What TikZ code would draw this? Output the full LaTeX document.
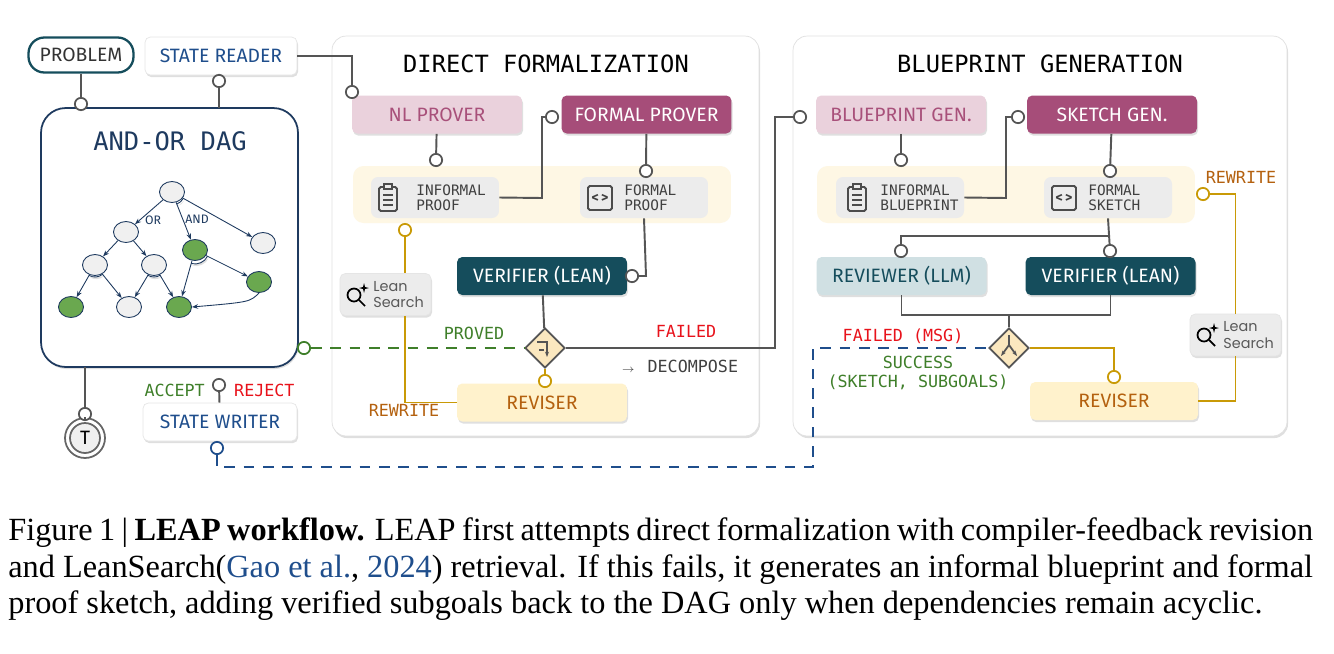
\documentclass[tikz,border=0pt]{standalone}
\usepackage{fontspec}
\setmainfont{Liberation Serif}
\newfontfamily\sansf{Fira Sans}
\newfontfamily\monof{DejaVu Sans Mono}
\newfontfamily\roundf{Poppins}
\usepackage{xcolor}
\usetikzlibrary{positioning, arrows.meta, calc, angles, shapes.geometric, shadows}

\definecolor{tealdk}{HTML}{154D5C}
\definecolor{pinklt}{HTML}{EAD1DC}
\definecolor{pinkdk}{HTML}{A64D79}
\definecolor{pinktx}{HTML}{A8507A}
\definecolor{band}{HTML}{FEF7E4}
\definecolor{revfill}{HTML}{FFF2CC}
\definecolor{revtx}{HTML}{B4610F}
\definecolor{gold}{HTML}{C99A06}
\definecolor{okgreen}{HTML}{3F7F2A}
\definecolor{badred}{HTML}{E8121B}
\definecolor{navy}{HTML}{1F4E8C}
\definecolor{dagnavy}{HTML}{1E3A5F}
\definecolor{greybox}{HTML}{ECECEC}
\definecolor{wirec}{HTML}{555555}
\definecolor{leaf}{HTML}{6AA84F}
\definecolor{revlt}{HTML}{D0E0E3}
\definecolor{diafill}{HTML}{FBE8BF}

\tikzset{
  wire/.style={draw=wirec, line width=1.1pt},
  goldwire/.style={draw=gold, line width=1.1pt},
  dot/.style={circle, draw=wirec, fill=white, line width=1pt, inner sep=0pt, minimum size=7pt},
  golddot/.style={dot, draw=gold},
  shade/.style={drop shadow={opacity=0.25, shadow xshift=0.6pt, shadow yshift=-1.2pt}},
  agent/.style={rectangle, rounded corners=3pt, minimum width=3.4cm, minimum height=0.76cm,
    font=\sansf\fontsize{11}{13}\selectfont, shade},
  artefact/.style={rectangle, rounded corners=4pt, fill=greybox, minimum width=2.56cm, minimum height=0.82cm},
  arttext/.style={anchor=west, inner sep=0pt, font=\monof\fontsize{8.2}{8.6}\selectfont, align=left, text=black!75},
  panel/.style={rectangle, rounded corners=8pt, draw=black!12, fill=white, shade},
  lbl/.style={font=\monof\fontsize{9.5}{11}\selectfont},
  gate/.style={diamond, draw=wirec, fill=diafill, line width=1pt, minimum size=0.8cm, inner sep=0pt},
  dagn/.style={ellipse, draw=dagnavy, fill=black!6, line width=0.5pt, minimum width=0.5cm, minimum height=0.42cm},
  dagg/.style={dagn, fill=leaf},
  dagarrow/.style={draw=dagnavy, line width=0.5pt, -{Stealth[length=3.5pt]}},
  search/.style={rectangle, rounded corners=3pt, fill=greybox, draw=black!10, minimum width=1.82cm,
    minimum height=0.84cm, shade},
  searchtext/.style={anchor=west, inner sep=0pt, font=\roundf\fontsize{8.2}{9.6}\selectfont, align=left, text=black!65}
}

\newcommand{\clipicon}[1]{%
  \draw[black!70, line width=1.1pt, rounded corners=1pt] ($(#1)+(-9,-11)$) rectangle ($(#1)+(9,13)$);
  \draw[black!70, line width=1.1pt, fill=greybox] ($(#1)+(-4,-14)$) rectangle ($(#1)+(4,-9)$);
  \foreach \yy in {-3,2,7} \draw[black!70, line width=1.1pt] ($(#1)+(-5,\yy)$) -- ($(#1)+(5,\yy)$);}
\newcommand{\codeicon}[1]{%
  \draw[black!70, line width=1.1pt, rounded corners=1pt] ($(#1)+(-12,-12)$) rectangle ($(#1)+(12,12)$);
  \node[font=\sansf\bfseries\fontsize{8}{8}\selectfont, text=black!75] at (#1) {<\,>};}
\newcommand{\lensicon}[1]{%
  \draw[black, line width=1pt] ($(#1)+(-2,-1)$) circle[radius=0.13cm];
  \draw[black, line width=1pt] ($(#1)+(3,4)$) -- ($(#1)+(9,10)$);
  \fill[black] ($(#1)+(8,-13)$) -- ($(#1)+(9,-9)$) -- ($(#1)+(13,-8)$) -- ($(#1)+(9,-7)$)
     -- ($(#1)+(8,-3)$) -- ($(#1)+(7,-7)$) -- ($(#1)+(3,-8)$) -- ($(#1)+(7,-9)$) -- cycle;}

\begin{document}
\begin{tikzpicture}[x=0.02cm, y=-0.02cm]
\useasboundingbox (0,0) rectangle (1334,653);

% --- Pannelli ---
\node[panel, minimum width=8.54cm, minimum height=8cm] (dfpanel) at (545.5,236) {};
\node[panel, minimum width=9.88cm, minimum height=8cm] (bppanel) at (1040,236) {};
\node[font=\monof\fontsize{13.5}{15}\selectfont] (dftitle) at (546,64) {DIRECT FORMALIZATION};
\node[font=\monof\fontsize{13.5}{15}\selectfont] (bptitle) at (1040,64) {BLUEPRINT GENERATION};

% --- Lato sinistro ---
\node[rectangle, rounded corners=9pt, draw=tealdk, line width=1.3pt, minimum width=2.1cm, minimum height=0.7cm,
  font=\sansf\fontsize{11}{13}\selectfont, text=black!80] (problem) at (81,55) {PROBLEM};
\node[agent, fill=white, draw=black!10, text=navy, minimum width=3.04cm] (reader) at (221,56) {STATE READER};
\node[rectangle, rounded corners=14pt, draw=dagnavy, fill=white, line width=1pt, shade,
  minimum width=5.14cm, minimum height=5.18cm] (dag) at (169.5,237.5) {};
\node[font=\monof\fontsize{14.5}{16}\selectfont, text=dagnavy] (dagtitle) at (170,141) {AND-OR DAG};
\node[agent, fill=white, draw=black!10, text=navy, minimum width=3.08cm] (writer) at (220,422) {STATE WRITER};
\node[circle, draw=black!60, line width=1pt, fill=white, minimum size=0.8cm, inner sep=0pt] (term) at (85,438) {};
\node[circle, draw=black!60, line width=1pt, fill=black!6, minimum size=0.6cm, inner sep=0pt,
  font=\sansf\fontsize{11}{12}\selectfont] (termin) at (85,438) {T};

\node[dot] (dprob) at (81,104) {};
\node[dot] (dread) at (219,81) {};
\node[dot] (dterm) at (85,414) {};
\node[dot] (dwrite) at (219,385) {};
\node[dot, draw=navy] (dwback) at (217,448) {};
\node[dot, draw=okgreen] (dproved) at (304,348) {};
\draw[wire] (problem) -- (dprob);
\draw[wire] (dread) -- (reader);
\draw[wire] (dread) -- (219,108);
\draw[wire] (85,367) -- (dterm);
\draw[wire] (dterm) -- (term);
\draw[wire] (dwrite) -- (writer);
\node[lbl, text=okgreen, anchor=east] (accept) at (211,390) {ACCEPT};
\node[lbl, text=badred, anchor=west] (reject) at (228,390) {REJECT};

% --- DAG AND-OR ---
\node[dagn] (t) at (172,192) {};
\node[dagn] (n21) at (126,232) {};
\node[dagg] (g1) at (195,250) {};
\node[dagn] (r1) at (263,243) {};
\node[dagn] (n31) at (95,265) {};
\node[dagn] (n32) at (154,265) {};
\node[dagg] (g3) at (259,282) {};
\node[dagg] (n41) at (71,307) {};
\node[dagn] (n42) at (129,307) {};
\node[dagg] (n43) at (179,307) {};
\draw[dagarrow] (t) -- (n21);
\draw[dagarrow] (t) -- (g1);
\draw[dagarrow] (t) -- (r1);
\draw[dagarrow] (n21) -- (n31);
\draw[dagarrow] (n21) -- (n32);
\draw[dagarrow] (n31) -- (n41);
\draw[dagarrow] (n31) -- (n42);
\draw[dagarrow] (n32) -- (n42);
\draw[dagarrow] (n32) -- (n43);
\draw[dagarrow] (g1) -- (n43);
\draw[dagarrow] (g1) -- (g3);
\draw[dagarrow] (g3.south) .. controls (250,302) .. (n43.east);
\pic[draw=dagnavy, line width=0.5pt, angle radius=0.26cm] {angle=g1--t--r1};
\pic[draw=dagnavy, line width=0.5pt, angle radius=0.28cm] {angle=n43--g1--g3};
\pic[draw=dagnavy, line width=0.5pt, angle radius=0.24cm] {angle=n41--n31--n42};
\pic[draw=dagnavy, line width=0.5pt, angle radius=0.24cm] {angle=n42--n32--n43};
\node[font=\sansf\fontsize{7}{8}\selectfont, text=dagnavy] (orlbl) at (153,220) {OR};
\node[font=\sansf\fontsize{7}{8}\selectfont, text=dagnavy] (andlbl) at (197,219) {AND};

% --- Formalizzazione diretta ---
\node[rectangle, rounded corners=6pt, fill=band, minimum width=7.56cm, minimum height=1.14cm] (dfband) at (542,194.5) {};
\node[agent, fill=pinklt, text=pinktx] (nlp) at (437,114.5) {NL PROVER};
\node[agent, fill=pinkdk, text=white] (fp) at (646.5,114.5) {FORMAL PROVER};
\node[artefact] (iproof) at (435,197.5) {};
\node[arttext] (iprooft) at (416,197.5) {INFORMAL\\PROOF};
\node[artefact] (fproof) at (644,197.5) {};
\node[arttext] (fprooft) at (624,197.5) {FORMAL\\PROOF};
\clipicon{388,198}
\codeicon{600,198}
\node[agent, fill=tealdk, text=white] (ver1) at (542,276) {VERIFIER (LEAN)};
\node[agent, fill=revfill, text=revtx] (rev1) at (542,402.5) {REVISER};
\node[search] (ls1) at (385.5,294.5) {};
\node[searchtext] (ls1t) at (373,294.5) {Lean\\Search};
\lensicon{356,296}
\node[gate] (g1d) at (545,348) {};
\draw[wirec, line width=1pt, -{Stealth[length=3pt]}] (537,342) -- (547,342) -- (547,357);
\draw[wirec, line width=1pt] (539,350) -- (544,350);

\node[dot] (dnl) at (352,92) {};
\node[dot] (dnlp) at (436,160) {};
\node[dot] (dfpp) at (646,171) {};
\node[dot] (dfpin) at (552,117) {};
\node[dot] (dver1) at (632,276) {};
\node[golddot] (drev1) at (545,381) {};
\node[golddot] (dip1) at (405,230) {};
\draw[wire] (reader.east) -| (dnl);
\draw[wire] (nlp) -- (dnlp);
\draw[wire] (fp) -- (dfpp);
\draw[wire] (iproof.east) -- (542,198) |- (dfpin);
\draw[wire] (fproof.south) -- (646,276) -- (dver1);
\draw[wire] (ver1) -- (g1d);
\draw[goldwire] (g1d) -- (drev1);
\draw[goldwire] (dip1) -- (ls1.north -| dip1);
\draw[goldwire] (ls1.south -| dip1) |- (rev1.west);
\draw[okgreen, line width=1.1pt, dash pattern=on 6pt off 5pt] (dproved) -- (g1d.west);
\node[lbl, text=okgreen] (provedl) at (474,333) {PROVED};
\node[lbl, text=badred] (failedl) at (686,331) {FAILED};
\node[lbl, text=black!75] (decomp) at (680,366) {{\fontsize{6}{7}\selectfont$\rightarrow$}\, DECOMPOSE};
\node[lbl, text=revtx] (rw1) at (404,410) {REWRITE};

% --- Generazione del blueprint ---
\node[rectangle, rounded corners=6pt, fill=band, minimum width=7.56cm, minimum height=1.14cm] (bpband) at (1006,194.5) {};
\node[agent, fill=pinklt, text=pinktx] (bpg) at (901,114.5) {BLUEPRINT GEN.};
\node[agent, fill=pinkdk, text=white] (skg) at (1112,114.5) {SKETCH GEN.};
\node[artefact] (iblue) at (900,197.5) {};
\node[arttext] (ibluet) at (880,197.5) {INFORMAL\\BLUEPRINT};
\node[artefact] (fsketch) at (1108,197.5) {};
\node[arttext] (fsketcht) at (1088,197.5) {FORMAL\\SKETCH};
\clipicon{857,198}
\codeicon{1064,198}
\node[agent, fill=revlt, text=tealdk] (revw) at (901.5,276) {REVIEWER (LLM)};
\node[agent, fill=tealdk, text=white] (ver2) at (1110.5,276) {VERIFIER (LEAN)};
\node[agent, fill=revfill, text=revtx, minimum width=3.36cm] (rev2) at (1114,401) {REVISER};
\node[search] (ls2) at (1235.5,335) {};
\node[searchtext] (ls2t) at (1223,335) {Lean\\Search};
\lensicon{1206,336}
\node[gate] (g2d) at (1009,348) {};
\draw[wirec, line width=1pt] (1009,335) -- (1009,345);
\draw[wirec, line width=1pt, -{Stealth[length=3pt]}] (1009,345) -- (1001,356);
\draw[wirec, line width=1pt, -{Stealth[length=3pt]}] (1009,345) -- (1017,356);

\node[dot] (dbp) at (800,117) {};
\node[dot] (dbpg) at (901,160) {};
\node[dot] (dskg) at (1110,171) {};
\node[dot] (dskin) at (1018,117) {};
\node[dot] (drevw) at (901,251) {};
\node[dot] (dver2) at (1110,251) {};
\node[golddot] (drev2) at (1114,377) {};
\node[golddot] (dsk2) at (1203,194) {};
\draw[wire] (g1d.east) -- (775,348) |- (dbp);
\draw[wire] (bpg) -- (dbpg);
\draw[wire] (skg) -- (dskg);
\draw[wire] (iblue.east) -- (1006,198) |- (dskin);
\draw[wire] (fsketch.south) -- (dver2);
\draw[wire] (1110,236) -| (drevw);
\draw[wire] (revw.south) |- (1009,315) -| (ver2.south);
\draw[wire] (1009,315) -- (g2d.north);
\draw[goldwire] (g2d.east) -| (drev2);
\draw[goldwire] (rev2.east) -| (ls2.south);
\draw[goldwire] (ls2.north) |- (dsk2);
\draw[navy, line width=1.1pt, dash pattern=on 6pt off 5pt] (dwback) |- (813,467) |- (g2d.west);
\node[lbl, text=badred] (failmsg) at (903,336) {FAILED (MSG)};
\node[lbl, text=okgreen, align=center] (success) at (918,373) {SUCCESS\\(SKETCH, SUBGOALS)};
\node[lbl, text=revtx] (rw2) at (1241,177) {REWRITE};

% --- Didascalia ---
\node[anchor=west, inner sep=0pt, font=\fontsize{18.4}{21}\selectfont] (cap1) at (8,533)
  {\hbox to 26.1cm{Figure 1 | \textbf{LEAP workflow.} LEAP first attempts direct formalization with compiler-feedback revision}};
\node[anchor=west, inner sep=0pt, font=\fontsize{18.4}{21}\selectfont] (cap2) at (8,570)
  {\hbox to 26.1cm{and LeanSearch(\textcolor{navy}{Gao et al.}, \textcolor{navy}{2024}) retrieval. If this fails, it generates an informal blueprint and formal}};
\node[anchor=west, inner sep=0pt, font=\fontsize{18.4}{21}\selectfont] (cap3) at (8,606)
  {proof sketch, adding verified subgoals back to the DAG only when dependencies remain acyclic.};
\end{tikzpicture}
\end{document}
